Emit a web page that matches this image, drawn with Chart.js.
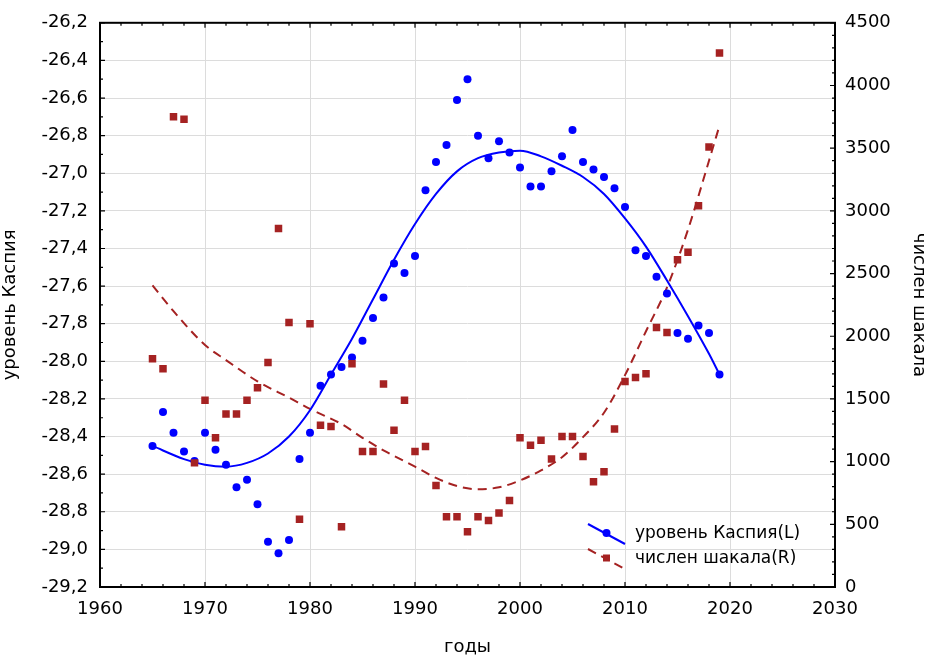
<!DOCTYPE html>
<html lang="ru">
<head>
  <meta charset="UTF-8" />
  <title>уровень Каспия и числен шакала</title>
  <script src="https://cdn.jsdelivr.net/npm/chart.js"></script>
  <style>
    body, html { margin: 0; padding: 0; background: #fff; }
    #wrap { width: 929px; height: 655px; }
  </style>
</head>
<body>
  <div id="wrap"><canvas id="chart" width="929" height="655"></canvas></div>

  <script>
    // годы наблюдений
    const years = [];
    for (let y = 1965; y <= 2019; y++) years.push(y);

    // уровень Каспия, м (левая ось)
    const level = [
      -28.45, -28.27, -28.38, -28.48, -28.53, -28.38, -28.47, -28.55, -28.67, -28.63,
      -28.76, -28.96, -29.02, -28.95, -28.52, -28.38, -28.13, -28.07, -28.03, -27.98,
      -27.89, -27.77, -27.66, -27.48, -27.53, -27.44, -27.09, -26.94, -26.85, -26.61,
      -26.50, -26.80, -26.92, -26.83, -26.89, -26.97, -27.07, -27.07, -26.99, -26.91,
      -26.77, -26.94, -26.98, -27.02, -27.08, -27.18, -27.41, -27.44, -27.55, -27.64,
      -27.85, -27.88, -27.81, -27.85, -28.07
    ];

    // численность шакала (правая ось)
    const jackal = [
      1820, 1740, 3750, 3730, 990, 1490, 1190, 1380, 1380, 1490,
      1590, 1790, 2860, 2110, 540, 2100, 1290, 1280, 480, 1780,
      1080, 1080, 1620, 1250, 1490, 1080, 1120, 810, 560, 560,
      440, 560, 530, 590, 690, 1190, 1130, 1170, 1020, 1200,
      1200, 1040, 840, 920, 1260, 1640, 1670, 1700, 2070, 2030,
      2610, 2670, 3040, 3510, 4260
    ];

    // сглаживающие кривые
    const levelFitYears = [1965, 1968, 1970, 1972, 1974, 1976, 1978, 1980, 1982, 1984, 1986, 1988, 1990, 1992, 1994, 1996, 1998, 2000, 2002, 2004, 2006, 2008, 2010, 2012, 2014, 2016, 2018, 2019];
    const levelFit = [-28.45, -28.52, -28.55, -28.56, -28.54, -28.49, -28.40, -28.26, -28.07, -27.88, -27.67, -27.46, -27.27, -27.11, -26.99, -26.92, -26.89, -26.88, -26.91, -26.96, -27.02, -27.11, -27.24, -27.39, -27.57, -27.76, -27.96, -28.07];

    const jackalFitYears = [1965, 1967, 1970, 1972, 1975, 1978, 1980, 1983, 1985, 1987, 1990, 1992, 1994, 1996, 1998, 2000, 2002, 2004, 2006, 2008, 2010, 2012, 2014, 2016, 2018, 2019];
    const jackalFit = [2405, 2200, 1930, 1810, 1640, 1510, 1420, 1300, 1190, 1090, 960, 870, 805, 780, 795, 850, 930, 1035, 1195, 1390, 1690, 2040, 2390, 2850, 3400, 3680];

    const labelL = 'уровень Каспия(L)';
    const labelR = 'числен шакала(R)';

    const BLUE = '#0000ff';
    const RED = '#a52222';
    const FONT = 'DejaVu Sans';

    const pts = (xs, ys) => xs.map((x, i) => ({ x: x, y: ys[i] }));

    // рамка, внутренние засечки и легенда
    const framePlugin = {
      id: 'frame',
      afterDraw(chart) {
        const ctx = chart.ctx;
        const a = chart.chartArea;
        const sx = chart.scales.x, sy = chart.scales.y, sy2 = chart.scales.y2;
        ctx.save();
        ctx.strokeStyle = '#000';
        ctx.lineWidth = 1.2;
        ctx.beginPath();
        for (let i = 0; i <= 35; i++) {
          const px = sx.getPixelForValue(1960 + i * 2);
          const len = i % 5 === 0 ? 5 : 3;
          ctx.moveTo(px, a.bottom); ctx.lineTo(px, a.bottom - len);
          ctx.moveTo(px, a.top); ctx.lineTo(px, a.top + len);
        }
        for (let i = 0; i <= 30; i++) {
          const py = sy.getPixelForValue(-29.2 + i * 0.1);
          const len = i % 2 === 0 ? 5 : 3;
          ctx.moveTo(a.left, py); ctx.lineTo(a.left + len, py);
        }
        for (let i = 0; i <= 45; i++) {
          const py = sy2.getPixelForValue(i * 100);
          const len = i % 5 === 0 ? 5 : 3;
          ctx.moveTo(a.right, py); ctx.lineTo(a.right - len, py);
        }
        ctx.stroke();
        ctx.lineWidth = 2;
        ctx.strokeRect(a.left, a.top, a.right - a.left, a.bottom - a.top);

        // легенда
        const lx0 = a.left + 488, lx1 = a.left + 525, tx = a.left + 535;
        const rows = [
          { y: 534, color: BLUE, dash: [], label: labelL, style: 'circle' },
          { y: 559, color: RED, dash: [9, 6], label: labelR, style: 'rect' }
        ];
        rows.forEach(r => {
          ctx.strokeStyle = r.color;
          ctx.lineWidth = 2;
          ctx.setLineDash(r.dash);
          ctx.beginPath();
          ctx.moveTo(lx0, r.y - 10);
          ctx.lineTo(lx1, r.y + 10);
          ctx.stroke();
          ctx.setLineDash([]);
          ctx.fillStyle = r.color;
          const mx = (lx0 + lx1) / 2, my = r.y - 1;
          if (r.style === 'circle') {
            ctx.beginPath(); ctx.arc(mx, my, 4, 0, Math.PI * 2); ctx.fill();
          } else {
            ctx.fillRect(mx - 3.5, my - 3.5, 7, 7);
          }
          ctx.fillStyle = '#000';
          ctx.font = '17px "' + FONT + '"';
          ctx.textBaseline = 'middle';
          ctx.fillText(r.label, tx, r.y);
        });
        ctx.restore();
      }
    };

    const tickFont = { family: FONT, size: 18 };
    const titleFont = { family: FONT, size: 18 };

    new Chart(document.getElementById('chart'), {
      type: 'scatter',
      data: {
        datasets: [
          {
            label: labelR,
            data: pts(years, jackal),
            yAxisID: 'y2',
            pointStyle: 'rect',
            pointRadius: 5.3,
            backgroundColor: RED,
            borderWidth: 0,
            showLine: false,
            order: 1
          },
          {
            label: labelL,
            data: pts(years, level),
            yAxisID: 'y',
            pointStyle: 'circle',
            pointRadius: 4,
            backgroundColor: BLUE,
            borderWidth: 0,
            showLine: false,
            order: 2
          },
          {
            label: labelL + ' fit',
            data: pts(levelFitYears, levelFit),
            yAxisID: 'y',
            showLine: true,
            pointRadius: 0,
            borderColor: BLUE,
            borderWidth: 2,
            cubicInterpolationMode: 'monotone',
            order: 3
          },
          {
            label: labelR + ' fit',
            data: pts(jackalFitYears, jackalFit),
            yAxisID: 'y2',
            showLine: true,
            pointRadius: 0,
            borderColor: RED,
            borderWidth: 2,
            borderDash: [9, 6],
            cubicInterpolationMode: 'monotone',
            order: 4
          }
        ]
      },
      options: {
        responsive: false,
        animation: false,
        layout: { padding: { top: 22, left: 0, right: 0, bottom: 0 } },
        plugins: { legend: { display: false }, tooltip: { enabled: false } },
        scales: {
          x: {
            type: 'linear',
            min: 1960, max: 2030,
            border: { display: false },
            grid: {
              drawTicks: false,
              color: c => (c.tick && (c.tick.value === 1960 || c.tick.value === 2030)) ? 'rgba(0,0,0,0)' : '#dcdcdc'
            },
            ticks: { stepSize: 10, padding: 12, color: '#000', font: tickFont, maxRotation: 0, callback: v => String(v) },
            title: { display: true, text: 'годы', color: '#000', font: titleFont, padding: { top: 0, bottom: -3 } },
            afterFit: s => { s.height = 68; }
          },
          y: {
            position: 'left',
            min: -29.2, max: -26.2,
            border: { display: false },
            grid: {
              drawTicks: false,
              color: c => (c.index === 0 || c.index === 15) ? 'rgba(0,0,0,0)' : '#dcdcdc'
            },
            ticks: { stepSize: 0.2, padding: 12, color: '#000', font: tickFont, callback: v => v.toFixed(1).replace('.', ',') },
            title: { display: true, text: 'уровень Каспия', color: '#000', font: titleFont, padding: { top: 0, bottom: 6 } },
            afterFit: s => { s.width = 100; }
          },
          y2: {
            position: 'right',
            min: 0, max: 4500,
            border: { display: false },
            grid: { drawOnChartArea: false, drawTicks: false },
            ticks: { stepSize: 500, padding: 10, color: '#000', font: tickFont, callback: v => String(v) },
            title: { display: true, text: 'числен шакала', color: '#000', font: titleFont, padding: { top: 0, bottom: 0 } },
            afterFit: s => { s.width = 94; }
          }
        }
      },
      plugins: [framePlugin]
    });
  </script>
</body>
</html>
